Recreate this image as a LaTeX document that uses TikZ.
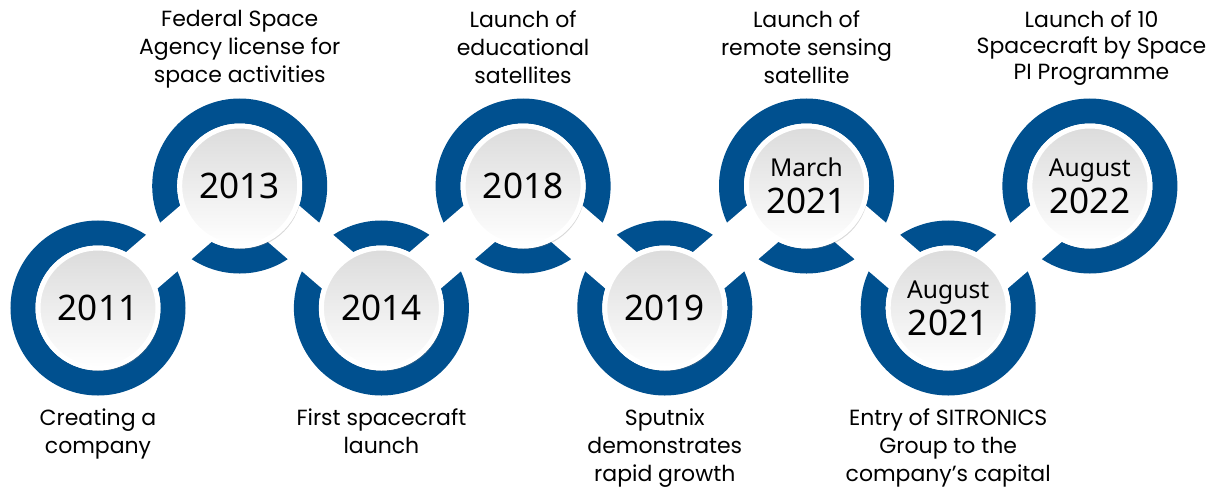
\documentclass[tikz,border=0pt]{standalone}
\usepackage{fontspec}
\setmainfont{Poppins}
\newfontfamily\yearfont{Noto Sans}
\usetikzlibrary{positioning,shadows}

\definecolor{ringblue}{RGB}{0,80,143}

\tikzset{
  ring/.style={circle, draw=ringblue, line width=0.5cm, minimum size=3cm, inner sep=0pt},
  band/.style={draw=white, line width=0.96cm, line join=round,
    preaction={draw=black, opacity=0.13, transform canvas={xshift=0.03cm, yshift=-0.09cm}}},
  disc/.style={circle, draw=white, line width=0.1cm, top color=black!14, bottom color=white,
    minimum size=2.4cm, inner sep=0pt, align=center,
    font=\yearfont\fontsize{20}{21}\selectfont,
    drop shadow={opacity=0.3, shadow xshift=0.04cm, shadow yshift=-0.06cm}},
  event/.style={align=center, inner sep=0pt, font=\fontsize{12.5}{16}\selectfont}
}
\newcommand{\monthtxt}[1]{{\fontsize{14}{17}\selectfont #1}}

\begin{document}
\begin{tikzpicture}
\useasboundingbox (0,0) rectangle (24.12,9.8);

% blue rings
\node[ring] (ring1) at (1.96,3.64) {};
\node[ring] (ring2) at (4.794,6.08) {};
\node[ring] (ring3) at (7.628,3.64) {};
\node[ring] (ring4) at (10.462,6.08) {};
\node[ring] (ring5) at (13.296,3.64) {};
\node[ring] (ring6) at (16.13,6.08) {};
\node[ring] (ring7) at (18.964,3.64) {};
\node[ring] (ring8) at (21.798,6.08) {};

% white band through the rings
\draw[band] (ring1.center) -- (ring2.center) -- (ring3.center) -- (ring4.center)
  -- (ring5.center) -- (ring6.center) -- (ring7.center) -- (ring8.center);

% year discs
\node[disc] (disc1) at (ring1) {2011};
\node[disc] (disc2) at (ring2) {2013};
\node[disc] (disc3) at (ring3) {2014};
\node[disc] (disc4) at (ring4) {2018};
\node[disc] (disc5) at (ring5) {2019};
\node[disc] (disc6) at (ring6) {\monthtxt{March}\\2021};
\node[disc] (disc7) at (ring7) {\monthtxt{August}\\2021};
\node[disc] (disc8) at (ring8) {\monthtxt{August}\\2022};

% events below
\node[event, anchor=north] (note1) at (1.96,1.64) {Creating a\\company};
\node[event, anchor=north] (note3) at (7.628,1.64) {First spacecraft\\launch};
\node[event, anchor=north] (note5) at (13.296,1.64) {Sputnix\\demonstrates\\rapid growth};
\node[event, anchor=north] (note7) at (18.964,1.64) {Entry of SITRONICS\\Group to the\\company’s capital};

% events above
\node[event, anchor=north] (note2) at (4.794,9.6) {Federal Space\\Agency license for\\space activities};
\node[event, anchor=north] (note4) at (10.462,9.6) {Launch of\\educational\\satellites};
\node[event, anchor=north] (note6) at (16.13,9.6) {Launch of\\remote sensing\\satellite};
\node[event, anchor=north, font=\fontsize{12.5}{15}\selectfont] (note8) at (21.83,9.6) {Launch of 10\\Spacecraft by Space\\PI Programme};
\end{tikzpicture}
\end{document}
